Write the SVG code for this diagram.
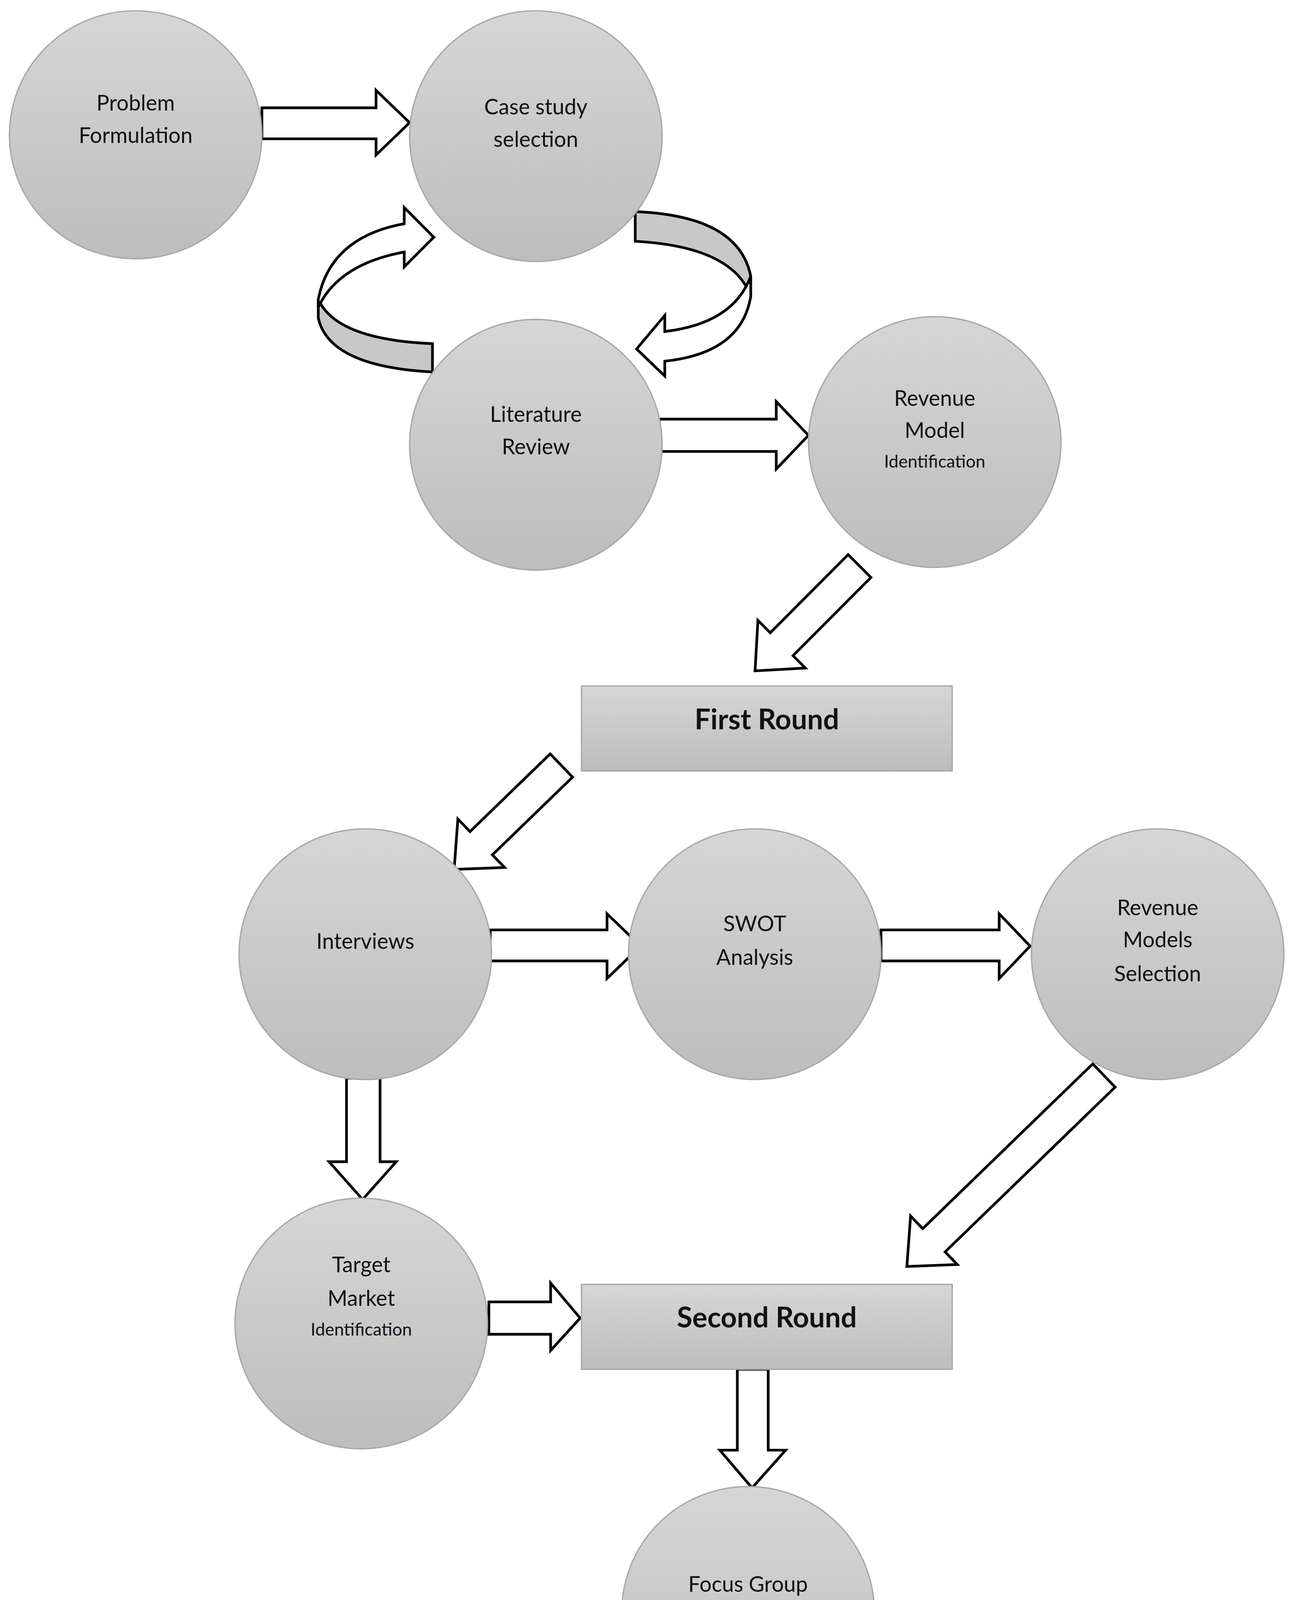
<svg xmlns="http://www.w3.org/2000/svg" width="3317" height="5403" viewBox="0 0 3317 5403">
<defs>
<linearGradient id="g" x1="0" y1="0" x2="0" y2="1"><stop offset="0" stop-color="#d6d6d6"/><stop offset="1" stop-color="#bdbdbd"/></linearGradient>
<style>
.n{fill:url(#g);stroke:#a8a8a8;stroke-width:1}
.t{font-family:Lato,"Open Sans","Liberation Sans",sans-serif;font-size:16px;fill:#111;text-anchor:middle}
.s{font-size:13px}
.b{font-weight:bold;font-size:21px}
.bc{font-weight:bold;font-size:17px}
.a{fill:#fff;stroke:#000;stroke-width:2;stroke-linejoin:miter}
.gb{fill:#c8c8c8;stroke:#000;stroke-width:2}
</style>
</defs>
<rect width="3317" height="5403" fill="#fff"/>
<g transform="scale(3.4373,3.4502)">
<g id="connectors">
<path class="a" d="M195,80 H280 V67 L305,91 L280,115 V103 H195 Z"/>
<path class="a" d="M491,311 H578 V298 L602,323 L578,348 V335 H491 Z"/>
<path class="a" d="M365,690 H452 V678 L477,702 L452,726 V713 H365 Z"/>
<path class="a" d="M656,690 H744 V678 L767,702 L744,726 V713 H656 Z"/>
<path class="a" d="M258,800 H283 V862 H295 L270,890 L245,862 H258 Z"/>
<path class="a" d="M364,966 H410 V952 L432,978 L410,1002 V990 H364 Z"/>
<path class="a" d="M549,1016 H572 V1076 H585 L560,1104 L536,1076 H549 Z"/>
<path class="a" d="M658,1450 H745 V1438 L768,1462 L745,1486 V1475 H658 Z"/>
<path class="a" transform="translate(640,420) rotate(135)" d="M0,-12 H82 V-25 L110,0 L82,25 V12 H0 Z"/>
<path class="a" transform="translate(418,568) rotate(136)" d="M0,-12 H83 V-25 L111,0 L83,25 V12 H0 Z"/>
<path class="a" transform="translate(822,798) rotate(136)" d="M0,-12 H176 V-25 L204,0 L176,25 V12 H0 Z"/>
<path class="a" transform="translate(445,1198) rotate(136)" d="M0,-12 H83 V-25 L111,0 L83,25 V12 H0 Z"/>
<path class="a" transform="translate(368,1370) rotate(45)" d="M0,-12 H81 V-25 L109,0 L81,25 V12 H0 Z"/>
<path class="gb" d="M237,222 L237,236 Q245,272 322,276 L322,255 Q250,252 237,222 Z"/>
<path class="a" d="M237,222 Q246,176 301,166 L301,154 L323,176 L301,198 L301,187 Q252,196 237,228 Z"/>
<path class="gb" d="M473,157 Q550,160 559,205 L559,220 Q546,183 473,179 Z"/>
<path class="a" d="M559,205 L559,220 Q552,262 495,268 L495,279 L474,259 L495,234 L495,246 Q546,240 559,205 Z"/>
</g>
<g id="n1"><ellipse class="n" cx="101" cy="100" rx="94" ry="92"/><text class="t" x="101" y="82">Problem</text><text class="t" x="101" y="106">Formulation</text></g>
<g id="n2"><ellipse class="n" cx="399" cy="101" rx="94" ry="93"/><text class="t" x="399" y="85">Case study</text><text class="t" x="399" y="109">selection</text></g>
<g id="n3"><ellipse class="n" cx="399" cy="330" rx="94" ry="93"/><text class="t" x="399" y="313">Literature</text><text class="t" x="399" y="337">Review</text></g>
<g id="n4"><ellipse class="n" cx="696" cy="328" rx="94" ry="93"/><text class="t" x="696" y="301">Revenue</text><text class="t" x="696" y="325">Model</text><text class="t s" x="696" y="347">Identification</text></g>
<g id="n5"><rect class="n" x="433" y="509" width="276" height="63"/><text class="t b" x="571" y="541">First Round</text></g>
<g id="n6"><ellipse class="n" cx="272" cy="708" rx="94" ry="93"/><text class="t" x="272" y="704">Interviews</text></g>
<g id="n7"><ellipse class="n" cx="562" cy="708" rx="94" ry="93"/><text class="t" x="562" y="691">SWOT</text><text class="t" x="562" y="716">Analysis</text></g>
<g id="n8"><ellipse class="n" cx="862" cy="708" rx="94" ry="93"/><text class="t" x="862" y="679">Revenue</text><text class="t" x="862" y="703">Models</text><text class="t" x="862" y="728">Selection</text></g>
<g id="n9"><ellipse class="n" cx="269" cy="982" rx="94" ry="93"/><text class="t" x="269" y="944">Target</text><text class="t" x="269" y="969">Market</text><text class="t s" x="269" y="991">Identification</text></g>
<g id="n10"><rect class="n" x="433" y="953" width="276" height="63"/><text class="t b" x="571" y="985">Second Round</text></g>
<g id="n11"><ellipse class="n" cx="557" cy="1196" rx="94" ry="93"/><text class="t" x="557" y="1181">Focus Group</text><text class="t" x="557" y="1205">Discussion</text></g>
<g id="n12"><ellipse class="n" cx="272" cy="1316" rx="94" ry="93"/><text class="t" x="272" y="1299">SWOT</text><text class="t" x="272" y="1324">Analysis</text></g>
<g id="n13"><ellipse class="n" cx="562" cy="1468" rx="94" ry="93"/><text class="t" x="562" y="1440">Revenue</text><text class="t" x="562" y="1465">models</text><text class="t" x="562" y="1489">Evaluation</text></g>
<g id="n14"><ellipse class="n" cx="862" cy="1468" rx="94" ry="93"/><text class="t bc" x="860" y="1464">Conclusion</text></g>
</g>
</svg>
